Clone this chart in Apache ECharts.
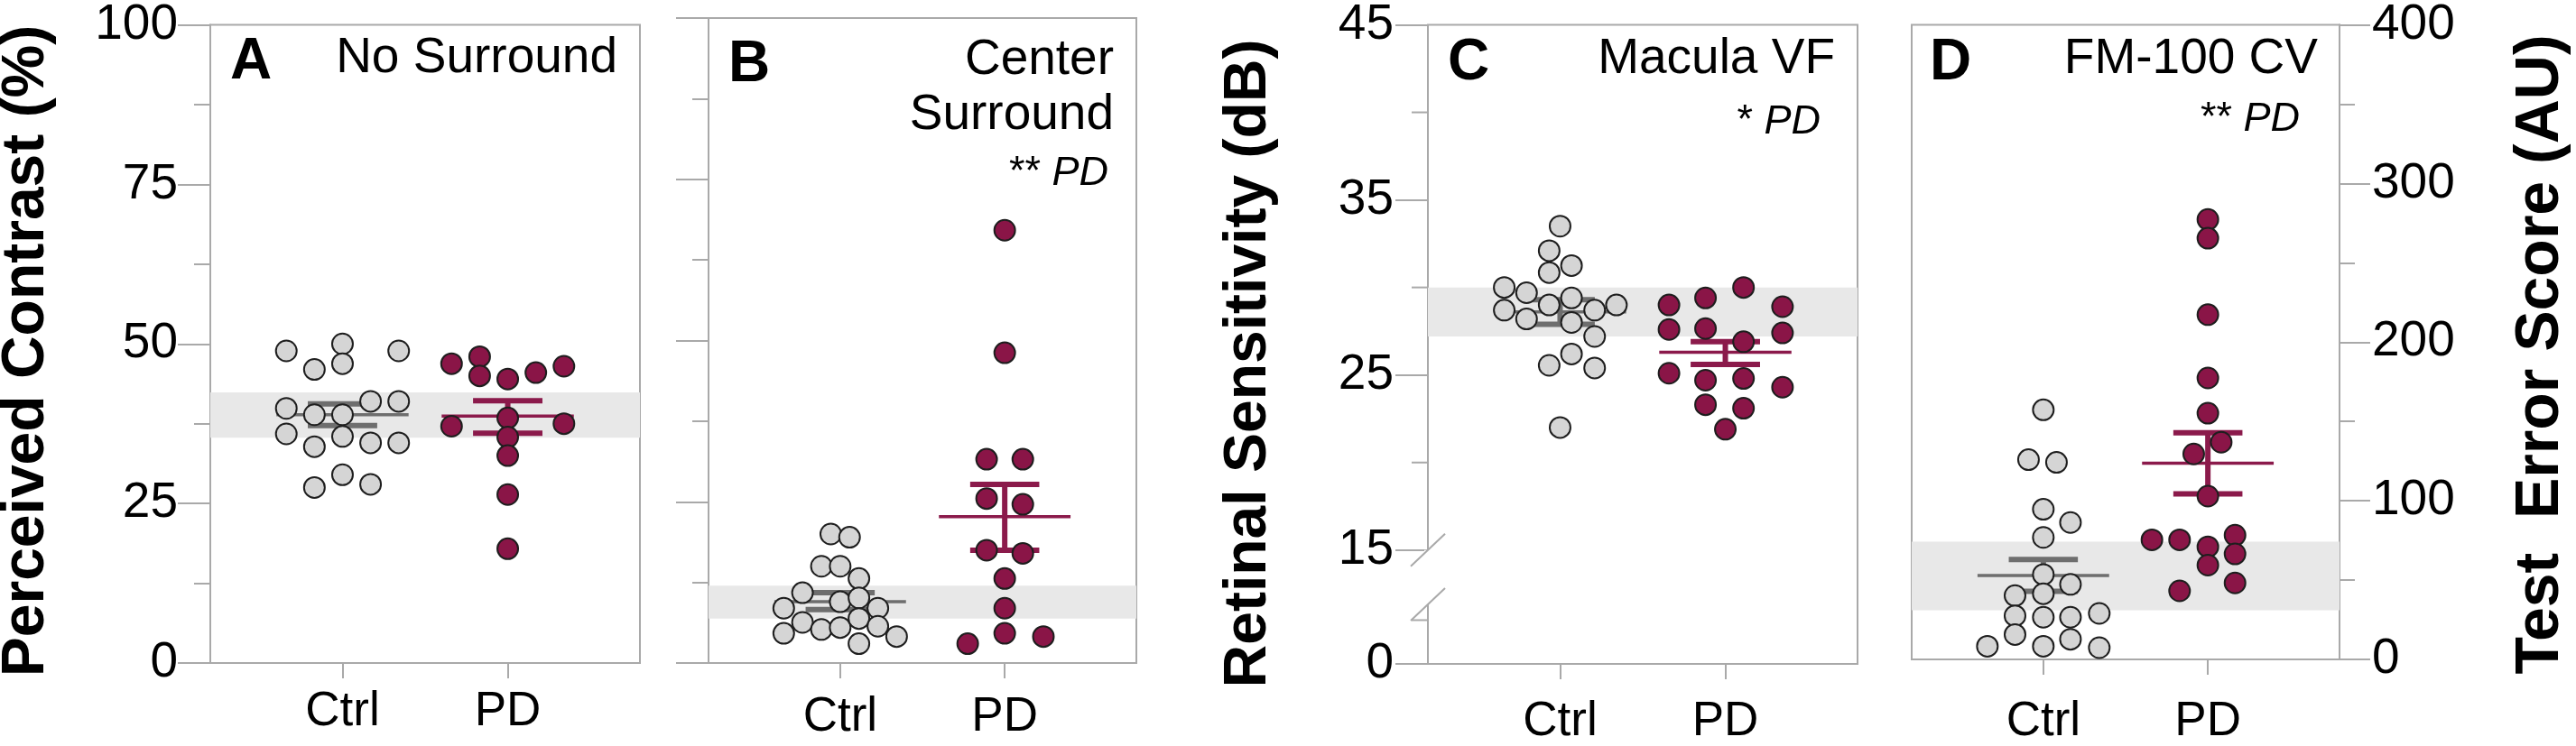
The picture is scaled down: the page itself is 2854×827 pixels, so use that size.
<!DOCTYPE html>
<html><head><meta charset="utf-8">
<script src="https://cdn.jsdelivr.net/npm/echarts@6/dist/echarts.min.js"></script>
<style>html,body{margin:0;padding:0;background:#fff}#c{width:2854px;height:827px}</style>
</head><body><div id="c"></div>
<script>
// ---------- data ----------
const categories = ['Ctrl', 'PD'];
const abTicks = [0, 25, 50, 75, 100];
const cTicks = [0, 15, 25, 35, 45];
const cMinorTicks = [2.5, 20, 30, 40];
const dTicks = [0, 100, 200, 300, 400];
const cBreak = [3.4, 15];

// each point: [horizontal offset within its group, value]
const aCtrl = [[-0.34,48.9],[-0.17,46.0],[0,50.0],[0,46.9],[0.34,48.9],[-0.34,39.9],[-0.17,38.9],[0,38.9],[0.17,41.0],[0.34,41.0],[-0.34,35.9],[-0.17,33.9],[0,35.5],[0.17,34.5],[0.34,34.5],[-0.17,27.5],[0,29.5],[0.17,28.0]];
const aPD = [[-0.34,46.9],[-0.17,48.0],[-0.17,45.0],[0,44.5],[0.17,45.5],[0.34,46.5],[-0.34,37.1],[0,38.4],[0.34,37.5],[0,35.4],[0,32.5],[0,26.4],[0,17.9]];
const bCtrl = [[-0.057,20.0],[0.057,19.5],[-0.114,15.0],[0,15.0],[0.114,13.1],[-0.229,10.9],[0,9.5],[0.114,10.1],[-0.343,8.5],[0.229,8.5],[-0.229,6.3],[-0.114,5.2],[0,5.5],[0.114,6.9],[0.229,5.7],[-0.343,4.6],[0.343,4.1],[0.114,3.0]];
const bPD = [[0,67.1],[0,48.1],[-0.11,31.6],[0.11,31.6],[-0.11,25.5],[0.11,24.6],[-0.11,17.5],[0.11,17.0],[0,13.1],[0,8.5],[-0.225,3.0],[0,4.6],[0.235,4.1]];
const cCtrl = [[0,33.5],[-0.066,32.1],[-0.066,30.85],[0.069,31.25],[-0.338,30.0],[-0.203,29.7],[0.069,29.4],[-0.338,28.7],[-0.203,28.2],[-0.066,29.0],[0.069,28.0],[0.209,28.7],[0.341,29.0],[0.209,27.2],[0.069,26.2],[-0.066,25.55],[0.209,25.4],[0,22.0]];
const cPD = [[0.11,30.0],[-0.341,29.0],[-0.12,29.4],[0.346,28.9],[-0.341,27.6],[-0.12,27.65],[0.11,26.9],[0.346,27.4],[-0.341,25.1],[-0.12,24.7],[0.11,24.8],[0.346,24.3],[-0.12,23.3],[0.11,23.1],[0,21.9]];
const dCtrl = [[0,157.3],[-0.09,125.9],[0.08,124.2],[0,94.6],[0.165,86.3],[0,76.9],[0,53.5],[0.165,47.3],[-0.172,40.2],[0,41.4],[-0.172,27.5],[0,26.6],[0.165,26.6],[0.34,29.0],[-0.172,15.7],[0.165,12.7],[-0.34,8.3],[0,8.3],[0.34,7.4]];
const dPD = [[0,277.3],[0,265.5],[0,217.3],[0,177.4],[0,155.2],[-0.086,129.5],[0.081,136.9],[0,102.9],[-0.34,75.4],[-0.172,75.4],[0.165,78.3],[0,71.0],[0.165,66.5],[0,59.4],[-0.172,43.2],[0.165,48.2]];

// [mean, lower SEM, upper SEM] for Ctrl, PD
const aStats = [[38.9,37.2,40.6],[38.7,36.0,41.1]];
const bStats = [[9.5,8.3,10.9],[22.7,17.5,27.7]];
const cStats = [[28.6,27.9,29.3],[26.3,25.6,26.9]];
const dStats = [[52.9,42.9,63.0],[123.6,104.4,142.8]];

// normal-range bands
const aBand = [35.3, 42.4];
const bBand = [6.9, 12.0];
const cBand = [27.2, 30.0];
const dBand = [31.0, 74.2];

// ---------- style ----------
const FONT = "'Liberation Sans', Arial, Helvetica, sans-serif";
const AX = '#a9a9a9';
const CTRL_FILL = '#d5d5d5', PD_FILL = '#8a1547';
const CTRL_LINE = '#6e6e6e', PD_LINE = '#8b1a4b';
const BAND = '#e8e8e8';
const axLine = {show: true, lineStyle: {color: AX, width: 2}};
const tickStyle = {color: AX, width: 2};

const grids = [
  {left: 233, top: 20, width: 476, height: 715},
  {left: 785, top: 20, width: 474, height: 715},
  {left: 1582, top: 22, width: 476, height: 715},
  {left: 2118, top: 24, width: 474, height: 713}
].map(g => Object.assign({show: true, borderColor: AX, borderWidth: 2, backgroundColor: 'transparent'}, g));

const labelMargins = [28, 34, 38, 43];
const xAxes = grids.map((g, i) => ({
  gridIndex: i, type: 'value', min: 0.2, max: 2.8,
  axisLine: axLine,
  axisTick: {show: true, customValues: [1, 2], length: 17, lineStyle: tickStyle},
  axisLabel: {customValues: [1, 2], formatter: v => categories[Math.round(v) - 1],
    margin: labelMargins[i], fontSize: 53, color: '#000', fontFamily: FONT},
  splitLine: {show: false}
}));

const lbl = (m, show) => ({show, margin: m, fontSize: 55, color: '#000', fontFamily: FONT});
const yAxes = [
  {gridIndex: 0, type: 'value', position: 'left', min: 0, max: 100, interval: 25, axisLine: axLine,
    axisTick: {length: 36, lineStyle: tickStyle},
    minorTick: {show: true, splitNumber: 2, length: 18, lineStyle: tickStyle},
    axisLabel: Object.assign(lbl(36, true), {customValues: abTicks}), splitLine: {show: false}},
  {gridIndex: 1, type: 'value', position: 'left', min: 0, max: 100, interval: 25, axisLine: axLine,
    axisTick: {length: 36, lineStyle: tickStyle},
    minorTick: {show: true, splitNumber: 2, length: 18, lineStyle: tickStyle},
    axisLabel: lbl(36, false), splitLine: {show: false}},
  {gridIndex: 2, type: 'value', position: 'left', min: 0, max: 45, axisLine: axLine,
    breaks: [{start: cBreak[0], end: cBreak[1], gap: '8.5%'}],
    breakArea: {show: false},
    axisTick: {customValues: cTicks, length: 36, lineStyle: tickStyle},
    axisLabel: Object.assign(lbl(38, true), {customValues: cTicks}), splitLine: {show: false}},
  {gridIndex: 3, type: 'value', position: 'right', min: 0, max: 400, interval: 100, axisLine: axLine,
    axisTick: {length: 34, lineStyle: tickStyle},
    minorTick: {show: true, splitNumber: 2, length: 17, lineStyle: tickStyle},
    axisLabel: Object.assign(lbl(36, true), {customValues: dTicks}), splitLine: {show: false}}
];

function errRender(params, api) {
  const x = api.value(0), m = api.value(1), lo = api.value(2), hi = api.value(3);
  const color = x === 1 ? CTRL_LINE : PD_LINE;
  const a = api.coord([x - 0.4, m]), b = api.coord([x + 0.4, m]);
  const l1 = api.coord([x - 0.21, lo]), l2 = api.coord([x + 0.21, lo]);
  const h1 = api.coord([x - 0.21, hi]), h2 = api.coord([x + 0.21, hi]);
  const c = api.coord([x, m]);
  const ln = (p, q, w) => ({type: 'line', shape: {x1: p[0], y1: p[1], x2: q[0], y2: q[1]},
    style: {stroke: color, lineWidth: w, lineCap: 'butt'}});
  return {type: 'group', children: [
    ln([c[0], h1[1]], [c[0], l1[1]], 6), ln(h1, h2, 6), ln(l1, l2, 6), ln(a, b, 3.5)
  ]};
}

function panel(xi, yi, ctrl, pd, stats, band) {
  return [
    {type: 'line', xAxisIndex: xi, yAxisIndex: yi, data: [], z: 1, silent: true,
      markArea: {silent: true, itemStyle: {color: BAND}, data: [[{yAxis: band[0]}, {yAxis: band[1]}]]}},
    {type: 'custom', xAxisIndex: xi, yAxisIndex: yi, z: 2, silent: true, renderItem: errRender,
      data: stats.map((s, i) => [i + 1, s[0], s[1], s[2]])},
    {type: 'scatter', xAxisIndex: xi, yAxisIndex: yi, z: 3, symbolSize: 23, silent: true,
      itemStyle: {color: CTRL_FILL, borderColor: '#1e1e1e', borderWidth: 2, opacity: 1},
      data: ctrl.map(p => [1 + p[0], p[1]])},
    {type: 'scatter', xAxisIndex: xi, yAxisIndex: yi, z: 3, symbolSize: 23, silent: true,
      itemStyle: {color: PD_FILL, borderColor: '#1e1e1e', borderWidth: 2, opacity: 1},
      data: pd.map(p => [2 + p[0], p[1]])}
  ];
}

// axis-break marks on panel C (two slashes at the break edges, gap in the axis line)
const breakSeries = {
  type: 'custom', xAxisIndex: 2, yAxisIndex: 2, z: 10, silent: true, clip: false,
  data: [[0.2, cBreak[0], cBreak[1]]],
  renderItem: function (params, api) {
    const lo = api.coord([api.value(0), api.value(1)]);
    const hi = api.coord([api.value(0), api.value(2)]);
    const slash = p => ({type: 'line', shape: {x1: p[0] - 19, y1: p[1] + 18, x2: p[0] + 19, y2: p[1] - 18},
      style: {stroke: AX, lineWidth: 2}});
    return {type: 'group', children: [
      {type: 'rect', shape: {x: lo[0] - 4, y: hi[1], width: 8, height: lo[1] - hi[1]}, style: {fill: '#fff'}},
      slash(hi), slash(lo)
    ]};
  }
};
// short (minor) ticks on panel C's broken axis
const cMinorTickSeries = {
  type: 'custom', xAxisIndex: 2, yAxisIndex: 2, z: 10, silent: true, clip: false,
  data: cMinorTicks.map(v => [0.2, v]),
  renderItem: function (params, api) {
    const p = api.coord([api.value(0), api.value(1)]);
    return {type: 'line', shape: {x1: p[0] - 18, y1: p[1], x2: p[0], y2: p[1]},
      style: {stroke: AX, lineWidth: 2}};
  }
};

function txt(x, y, text, size, o) {
  o = o || {};
  const st = {text, fontSize: size, fontFamily: FONT, fontWeight: o.bold ? 'bold' : 'normal',
    fontStyle: o.italic ? 'italic' : 'normal', fill: '#000',
    align: o.align || 'left', verticalAlign: 'middle', textAlign: o.align || 'left', textVerticalAlign: 'middle'};
  if (o.rich) st.rich = o.rich;
  return {type: 'text', x, y, rotation: o.rot || 0, z: 100, silent: true, style: st};
}
const sig = {s: {fontSize: 45, fontFamily: FONT, fill: '#000'}, i: {fontSize: 45, fontFamily: FONT, fontStyle: 'italic', fill: '#000'}};

const graphics = [
  txt(30, 389, 'Perceived Contrast (%)', 66, {bold: true, align: 'center', rot: Math.PI / 2}),
  txt(1384, 403, 'Retinal Sensitivity (dB)', 66, {bold: true, align: 'center', rot: Math.PI / 2}),
  txt(2815, 393, 'Test  Error Score (AU)', 68, {bold: true, align: 'center', rot: Math.PI / 2}),
  txt(255, 69, 'A', 64, {bold: true}),
  txt(684, 65, 'No Surround', 55, {align: 'right'}),
  txt(807, 72, 'B', 64, {bold: true}),
  txt(1234, 67, 'Center', 55, {align: 'right'}),
  txt(1234, 128, 'Surround', 55, {align: 'right'}),
  txt(1228, 192, '{s|** }{i|PD}', 45, {align: 'right', rich: sig}),
  txt(1604, 70, 'C', 64, {bold: true}),
  txt(2033, 66, 'Macula VF', 55, {align: 'right'}),
  txt(2017, 135, '{s|* }{i|PD}', 45, {align: 'right', rich: sig}),
  txt(2138, 70, 'D', 64, {bold: true}),
  txt(2568, 66, 'FM-100 CV', 55, {align: 'right'}),
  txt(2548, 132, '{s|** }{i|PD}', 45, {align: 'right', rich: sig})
];

const chart = echarts.init(document.getElementById('c'), null, {renderer: 'canvas'});
chart.setOption({
  animation: false,
  backgroundColor: '#fff',
  grid: grids,
  xAxis: xAxes,
  yAxis: yAxes,
  series: [].concat(
    panel(0, 0, aCtrl, aPD, aStats, aBand),
    panel(1, 1, bCtrl, bPD, bStats, bBand),
    panel(2, 2, cCtrl, cPD, cStats, cBand),
    panel(3, 3, dCtrl, dPD, dStats, dBand),
    [breakSeries, cMinorTickSeries]
  ),
  graphic: graphics
});
</script></body></html>
